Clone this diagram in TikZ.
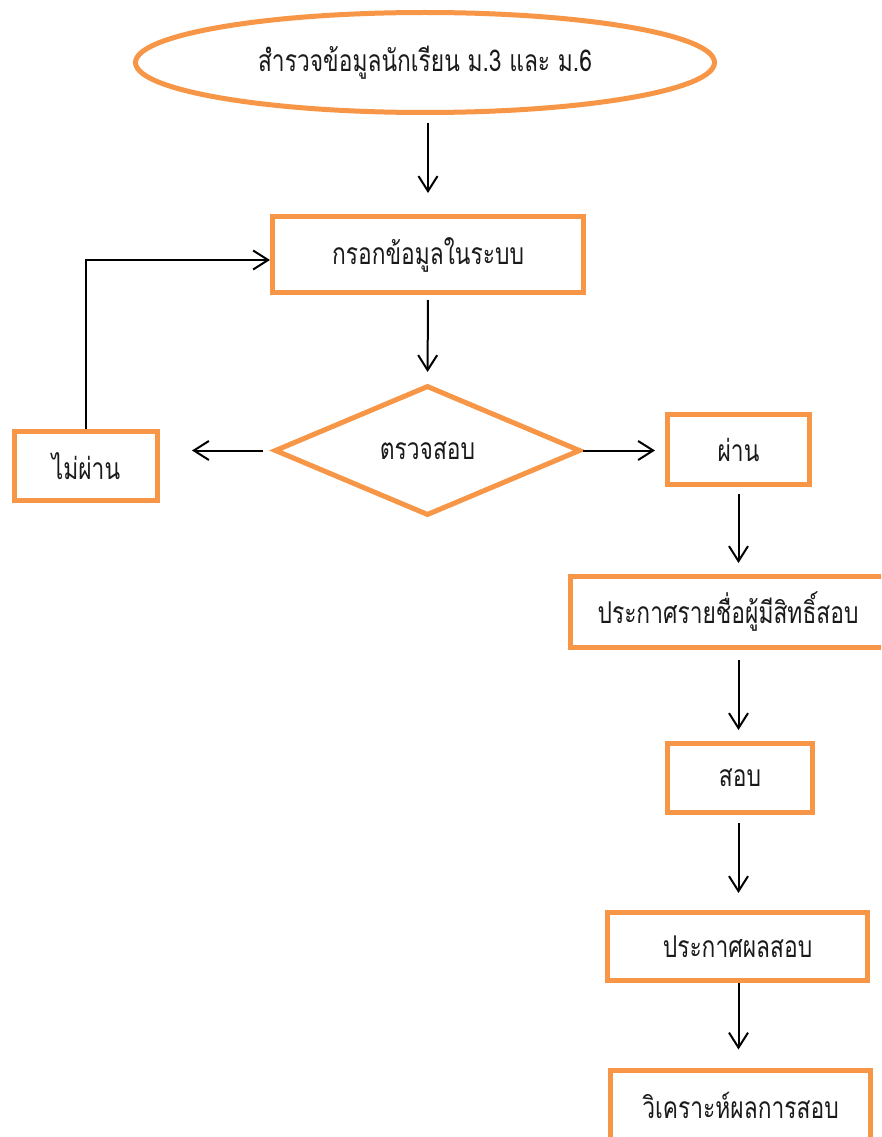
\documentclass[tikz,border=0pt]{standalone}
\usepackage{fontspec}
\newfontfamily\thaifont[Script=Thai,FakeStretch=0.76]{Loma}
\usetikzlibrary{shapes.geometric,arrows.meta,calc}
\definecolor{boxorange}{HTML}{F79646}
\definecolor{txt}{HTML}{1A1A1A}
\begin{document}
\begin{tikzpicture}[x=1pt,y=-1pt,
  every node/.style={font=\thaifont\fontsize{30}{36}\selectfont, text=txt, inner sep=0pt},
  stepbox/.style={draw=boxorange, line width=5pt, rectangle, fill=white},
  startshape/.style={draw=boxorange, line width=5pt, ellipse, fill=white},
  decision/.style={draw=boxorange, line width=5pt, diamond, fill=white},
  arr/.style={draw=black, line width=2pt, -{Straight Barb[length=15pt,width=19pt,line width=2pt]}}
]
\useasboundingbox (0,0) rectangle (881,1137);
\clip (0,0) rectangle (881,1137);

\node[startshape, minimum width=579pt, minimum height=100pt] (survey) at (425,62.5) {สำรวจข้อมูลนักเรียน ม.3 และ ม.6};
\node[stepbox, minimum width=311pt, minimum height=76pt] (fill) at (428,254.5) {กรอกข้อมูลในระบบ};
\node[decision, minimum width=306pt, minimum height=130pt] (check) at (427.5,450.5) {ตรวจสอบ};
\node[stepbox, minimum width=143pt, minimum height=69pt] (fail) at (86,466) {ไม่ผ่าน};
\node[stepbox, minimum width=142pt, minimum height=70pt] (pass) at (738.5,449.5) {ผ่าน};
\node[stepbox, minimum width=315pt, minimum height=71pt] (announce) at (728,612) {ประกาศรายชื่อผู้มีสิทธิ์สอบ};
\node[stepbox, minimum width=145pt, minimum height=69pt] (exam) at (740,778) {สอบ};
\node[stepbox, minimum width=260pt, minimum height=68pt] (result) at (737.5,946.5) {ประกาศผลสอบ};
\node[stepbox, minimum width=260pt, minimum height=70pt] (analyze) at (740.5,1105) {วิเคราะห์ผลการสอบ};

\draw[arr, shorten <=8pt, shorten >=21pt] (survey.south -| fill.north) -- (fill.north);
\draw[arr, shorten <=5pt, shorten >=11pt] (fill.south) -- (check.north);
\draw[arr, shorten <=9pt, shorten >=32pt] (check.west) -- (check.west -| fail.east);
\draw[arr] (fail.north) |- ($(fill.west)+(0,5.5)$);
\draw[arr, shorten >=10pt] (check.east) -- (check.east -| pass.west);
\draw[arr, shorten <=7pt, shorten >=11pt] (pass.south) -- (pass.south |- announce.north);
\draw[arr, shorten <=10pt, shorten >=11pt] (announce.south -| pass.south) -- (pass.south |- exam.north);
\draw[arr, shorten <=8pt, shorten >=17pt] (exam.south -| pass.south) -- (pass.south |- result.north);
\draw[arr, shorten >=18pt] (result.south -| pass.south) -- (pass.south |- analyze.north);
\end{tikzpicture}
\end{document}
